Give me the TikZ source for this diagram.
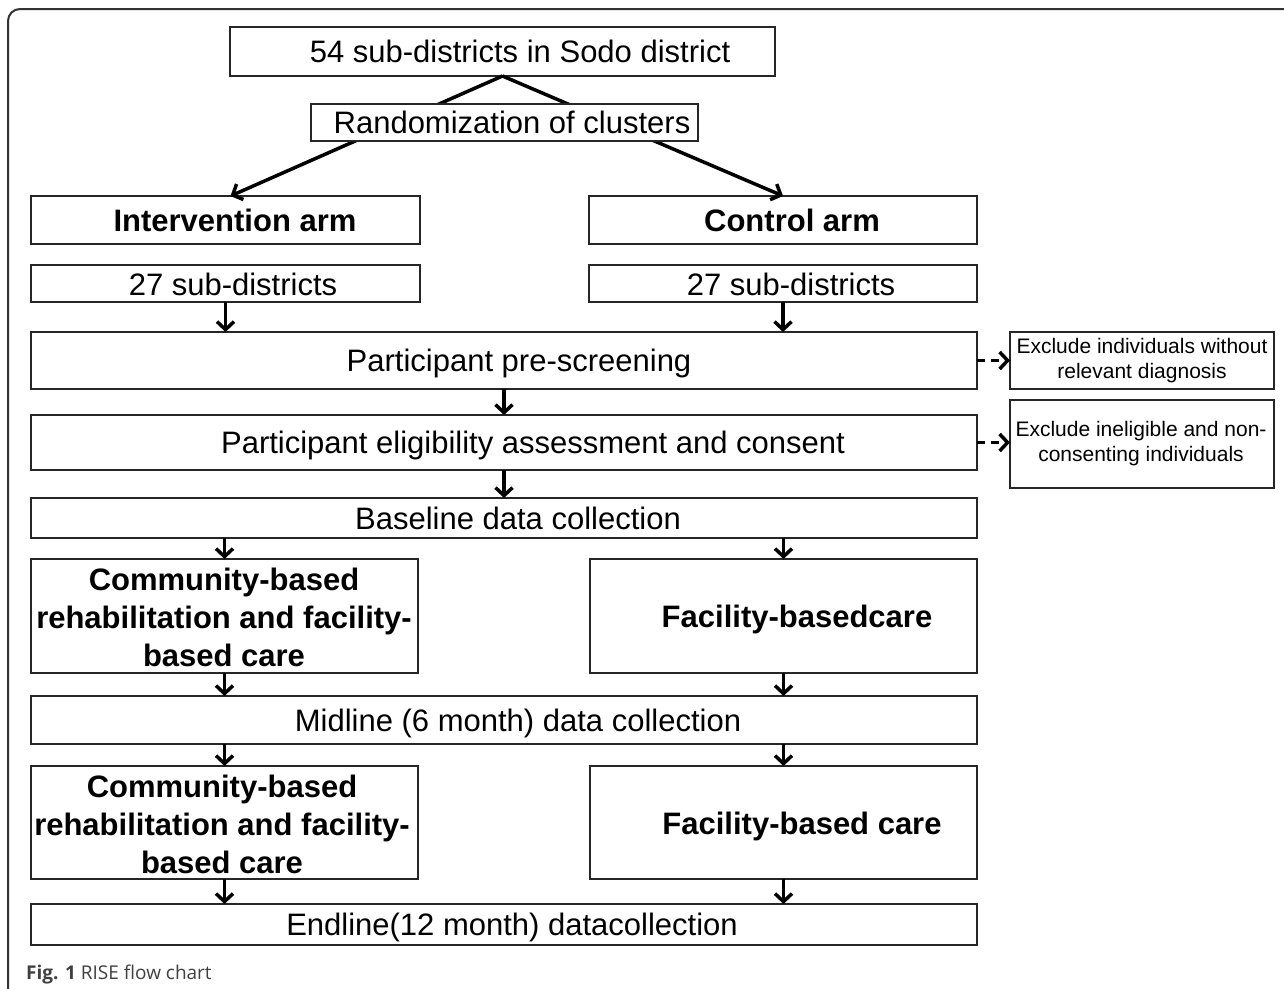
\documentclass[tikz,border=0pt]{standalone}
\usepackage{fontspec}
\setmainfont{Liberation Sans}
\newfontfamily\capfont{Open Sans}
\usetikzlibrary{arrows.meta}
\begin{document}
\begin{tikzpicture}[x=1pt,y=-1pt,
  box/.style={draw=black!85, line width=1.4pt, fill=white, inner sep=0pt, outer sep=0pt, anchor=north west},
  txt/.style={inner sep=0pt, font=\fontsize{31}{38}\selectfont, align=center},
  btxt/.style={txt, font=\fontsize{31}{38}\selectfont\bfseries},
  oneline/.style={text height=22pt, text depth=0pt},
  stxt/.style={inner sep=0pt, font=\fontsize{21}{25}\selectfont, align=center},
  arr/.style={line width=3.5pt, -{Straight Barb[length=8pt,width=17pt,line width=3.5pt]}},
  darr/.style={arr, dash pattern=on 8pt off 6pt}]
\useasboundingbox (0,0) rectangle (1284,988);
\newcommand\mybox[5]{\node[box,minimum width=#4pt,minimum height=#5pt] (#1) at (#2,#3) {};}
% frame
\draw[line width=2pt, black!80, rounded corners=12pt] (8,990) -- (8,9) -- (1286,9);
% boxes
\mybox{top}{230}{27}{545}{49}
\mybox{int}{31}{196}{389}{48}
\mybox{ctrl}{589}{196}{388}{48}
\draw[arr] (top.south) -- ([xshift=5pt]int.north);
\draw[arr] (top.south) -- (ctrl.north);
\mybox{rand}{311}{104}{387}{37}
\mybox{sa}{31}{265}{389}{37}
\mybox{sb}{589}{265}{388}{37}
\mybox{pre}{31}{332}{946}{57}
\mybox{exa}{1010}{332}{264}{57}
\mybox{elig}{31}{415}{946}{55}
\mybox{exb}{1010}{400}{264}{88}
\mybox{base}{31}{498}{946}{40}
\mybox{ca}{31}{559}{387}{114}
\mybox{fa}{590}{559}{387}{114}
\mybox{mid}{31}{696}{946}{48}
\mybox{cb}{31}{766}{387}{113}
\mybox{fb}{590}{766}{387}{113}
\mybox{fin}{31}{904}{946}{41}
% texts
\node[txt,oneline] (ttop) at (520,51) {54 sub-districts in Sodo district};
\node[txt,oneline] (trand) at (512,122) {Randomization of clusters};
\node[btxt,oneline] (tint) at (235,220) {Intervention arm};
\node[btxt,oneline] (tctrl) at (792,220) {Control arm};
\node[txt,oneline] (tsa) at (233,284) {27 sub-districts};
\node[txt,oneline] (tsb) at (791,284) {27 sub-districts};
\node[txt,oneline] (tpre) at (519,360) {Participant pre-screening};
\node[stxt] (texa) at (1142,361) {Exclude individuals without\\relevant diagnosis};
\node[txt,oneline] (telig) at (533,442) {Participant eligibility assessment and consent};
\node[stxt] (texb) at (1141,444) {Exclude ineligible and non-\\consenting individuals};
\node[txt,oneline] (tbase) at (518,518) {Baseline data collection};
\node[btxt] (tca) at (224,617) {Community-based\\rehabilitation and facility-\\based care};
\node[btxt,oneline] (tfa) at (797,616) {Facility-basedcare};
\node[txt,oneline] (tmid) at (518,720) {Midline (6 month) data collection};
\node[btxt] (tcb) at (222,824) {Community-based\\rehabilitation and facility-\\based care};
\node[btxt,oneline] (tfb) at (802,823) {Facility-based care};
\node[txt,oneline] (tfin) at (512,924) {Endline(12 month) datacollection};
% arrows
\draw[arr] (sa.south) -- (sa.south |- pre.north);
\draw[arr] (sb.south) -- (sb.south |- pre.north);
\draw[arr] (pre.south) -- (elig.north);
\draw[arr] (elig.south) -- (base.north);
\draw[darr] (pre.east) -- (exa.west);
\draw[darr] (elig.east) -- (elig.east -| exb.west);
\draw[arr] (ca.north |- base.south) -- (ca.north);
\draw[arr] (fa.north |- base.south) -- (fa.north);
\draw[arr] (ca.south) -- (ca.south |- mid.north);
\draw[arr] (fa.south) -- (fa.south |- mid.north);
\draw[arr] (cb.north |- mid.south) -- (cb.north);
\draw[arr] (fb.north |- mid.south) -- (fb.north);
\draw[arr] (cb.south) -- (cb.south |- fin.north);
\draw[arr] (fb.south) -- (fb.south |- fin.north);
% caption
\node[anchor=base west, inner sep=0pt, font=\capfont\fontsize{19}{22}\selectfont, text=black!75] (cap) at (26,979) {\textbf{Fig. 1} RISE flow chart};
\end{tikzpicture}
\end{document}
